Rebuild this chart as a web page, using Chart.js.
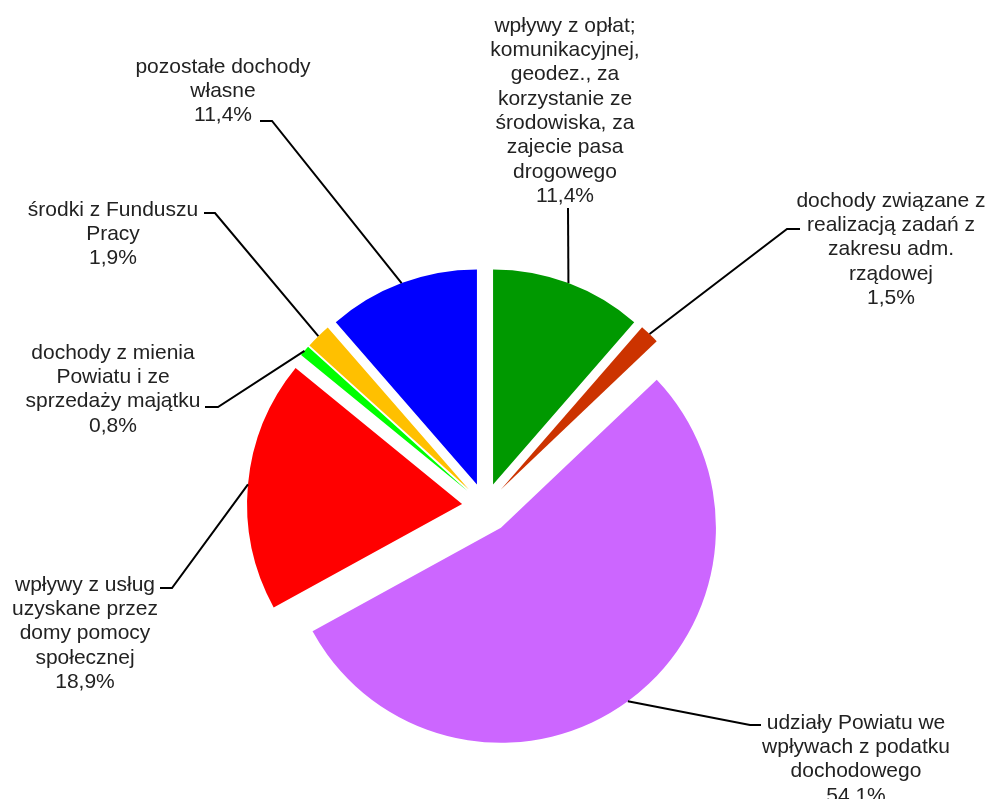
<!DOCTYPE html>
<html>
<head>
<meta charset="utf-8">
<script src="https://cdn.jsdelivr.net/npm/chart.js@4.4.0/dist/chart.umd.min.js"></script>
<style>
  html, body { margin: 0; padding: 0; background: #fff; }
  #wrap { width: 988px; height: 799px; position: relative; }
</style>
</head>
<body>
<div id="wrap"><canvas id="incomeChart"></canvas></div>
<script>
// Category names, split into the lines shown next to each slice (clockwise from the top).
var categories = [
    ['wpływy z opłat;', 'komunikacyjnej,', 'geodez., za', 'korzystanie ze', 'środowiska, za', 'zajecie pasa', 'drogowego'],
    ['dochody związane z', 'realizacją zadań z', 'zakresu adm.', 'rządowej'],
    ['udziały Powiatu we', 'wpływach z podatku', 'dochodowego'],
    ['wpływy z usług', 'uzyskane przez', 'domy pomocy', 'społecznej'],
    ['dochody z mienia', 'Powiatu i ze', 'sprzedaży majątku'],
    ['środki z Funduszu', 'Pracy'],
    ['pozostałe dochody', 'własne']
];
// Share of each source in percent.
var shares = [11.4, 1.5, 54.1, 18.9, 0.8, 1.9, 11.4];

var sliceColors = ['#009900', '#CC3300', '#CC66FF', '#FF0000', '#00FF00', '#FFC000', '#0000FF'];

// How far each slice is pulled out of the pie (px).
var explode = [23, 23, 27, 23, 23, 23, 23];

// Label layout: text centre x, first line y, and the leader line end (elbow + tick).
var labelBoxes = [
    { x: 565, y: 26,  line: [[568, 208]] },
    { x: 891, y: 201, line: [[787, 229], [800, 229]] },
    { x: 856, y: 723, line: [[750, 725], [761, 725]] },
    { x: 85,  y: 585, line: [[172, 588], [160, 588]] },
    { x: 113, y: 353, line: [[218, 407], [205, 407]] },
    { x: 113, y: 210, line: [[215, 213], [204, 213]] },
    { x: 223, y: 67,  line: [[272, 121], [260, 121]] }
];
var lineStep = 24.3;

function formatShare(v) {
    return v.toFixed(1).replace('.', ',') + '%';
}

// Pulls every arc away from the centre along its middle angle.
var explodePlugin = {
    id: 'explode',
    afterDatasetsUpdate: function(chart) {
        var meta = chart.getDatasetMeta(0);
        meta.data.forEach(function(arc, i) {
            var half = (arc.startAngle + arc.endAngle) / 2;
            arc.x += Math.cos(half) * explode[i];
            arc.y += Math.sin(half) * explode[i];
        });
    }
};

// Leader lines and the outside labels.
var labelPlugin = {
    id: 'outsideLabels',
    afterDraw: function(chart) {
        var ctx = chart.ctx;
        var meta = chart.getDatasetMeta(0);
        ctx.save();
        ctx.strokeStyle = '#000';
        ctx.lineWidth = 2;
        ctx.lineJoin = 'miter';
        meta.data.forEach(function(arc, i) {
            var half = (arc.startAngle + arc.endAngle) / 2;
            var sx = arc.x + Math.cos(half) * arc.outerRadius;
            var sy = arc.y + Math.sin(half) * arc.outerRadius;
            ctx.beginPath();
            ctx.moveTo(sx, sy);
            labelBoxes[i].line.forEach(function(p) {
                ctx.lineTo(p[0], p[1]);
            });
            ctx.stroke();
        });

        ctx.fillStyle = '#222';
        ctx.font = '21px "Liberation Sans", Arial, sans-serif';
        ctx.textAlign = 'center';
        ctx.textBaseline = 'middle';
        categories.forEach(function(lines, i) {
            var box = labelBoxes[i];
            var all = lines.concat([formatShare(shares[i])]);
            all.forEach(function(t, k) {
                ctx.fillText(t, box.x, box.y + k * lineStep);
            });
        });
        ctx.restore();
    }
};

var ctx = document.getElementById('incomeChart').getContext('2d');
var incomeChart = new Chart(ctx, {
    type: 'pie',
    data: {
        labels: categories.map(function(c) { return c.join(' '); }),
        datasets: [{
            data: shares,
            backgroundColor: sliceColors,
            borderWidth: 0,
            radius: 215
        }]
    },
    options: {
        responsive: true,
        maintainAspectRatio: false,
        animation: false,
        events: [],
        layout: {
            padding: { left: 200, right: 218, top: 250, bottom: 37 }
        },
        plugins: {
            legend: { display: false },
            tooltip: { enabled: false }
        }
    },
    plugins: [explodePlugin, labelPlugin]
});
</script>
</body>
</html>
